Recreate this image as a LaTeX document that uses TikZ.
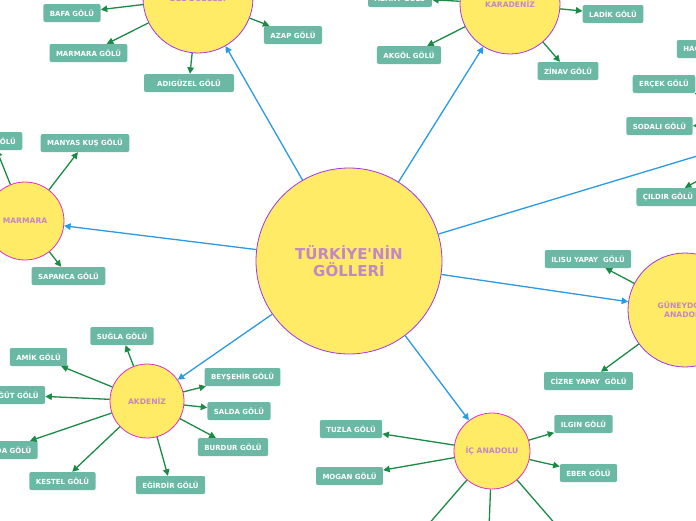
\documentclass[tikz,border=0pt]{standalone}
\usepackage{fontspec}
\setmainfont{DejaVu Sans}
\usetikzlibrary{arrows.meta}
\definecolor{boxc}{HTML}{6BB8A5}
\definecolor{grn}{HTML}{1B8A45}
\definecolor{blu}{HTML}{2A9BE3}
\definecolor{yel}{HTML}{FFEB66}
\definecolor{pur}{HTML}{A335E8}
\definecolor{mag}{HTML}{E030C8}
\definecolor{txt}{HTML}{C386C6}
\tikzset{
  lake/.style={rectangle, rounded corners=2pt, fill=boxc, text=white,
    font=\fontsize{7}{8}\selectfont\bfseries, minimum height=18pt,
    inner xsep=6.5pt, inner ysep=0pt},
  region/.style={circle, fill=yel, draw=#1, line width=0.8pt, text=txt,
    font=\fontsize{7.6}{9}\selectfont\bfseries, align=center, inner sep=0pt},
  garrow/.style={draw=grn, line width=1.3pt, -{Triangle[length=6.5pt,width=6.5pt]}},
  barrow/.style={draw=blu, line width=1.3pt, -{Triangle[length=6.5pt,width=6.5pt]}},
}
\begin{document}
\begin{tikzpicture}[x=1pt,y=-1pt]
\useasboundingbox (0,0) rectangle (696,520);
\fill[white] (0,0) rectangle (696,520);
\clip (0,0) rectangle (696,520);

% central
\node[region=pur, minimum size=186pt, font=\fontsize{15}{17}\selectfont\bfseries] (central) at (349,261) {TÜRKİYE\textquotesingle NİN\\GÖLLERİ};

% Ege
\node[region=pur, minimum size=110pt] (ege) at (198,-2) {EGE BÖLGESİ};
\node[lake] (bafa) at (72,13) {BAFA GÖLÜ};
\node[lake] (marmgol) at (88.5,53) {MARMARA GÖLÜ};
\node[lake, minimum width=90pt] (adiguzel) at (189,83) {ADIGÜZEL GÖLÜ};
\node[lake] (azap) at (293,35) {AZAP GÖLÜ};

% Karadeniz
\node[region=pur, minimum size=100pt] (karadeniz) at (510,4) {KARADENİZ};
\node[lake] (abant) at (400,-2) {ABANT GÖLÜ};
\node[lake] (ladik) at (613,14) {LADİK GÖLÜ};
\node[lake] (akgol) at (409,55) {AKGÖL GÖLÜ};
\node[lake] (zinav) at (568,71) {ZİNAV GÖLÜ};

% Dogu Anadolu (off picture)
\coordinate (dogu) at (800,125);
\node[lake] (hacli) at (707,49) {HAÇLI GÖLÜ};
\node[lake] (ercek) at (664,84) {ERÇEK GÖLÜ};
\node[lake] (sodali) at (659.5,126) {SODALI GÖLÜ};
\node[lake] (cildir) at (668,197) {ÇILDIR GÖLÜ};

% Marmara
\node[region=mag, minimum size=78pt] (marmara) at (25,221) {MARMARA};
\node[lake] (iznik) at (-7,141) {İZNİK GÖLÜ};
\node[lake] (manyas) at (85,143) {MANYAS KUŞ GÖLÜ};
\node[lake] (sapanca) at (68.5,276) {SAPANCA GÖLÜ};

% Guneydogu
\node[region=pur, minimum size=114pt] (gd) at (685,310) {GÜNEYDOĞU\\ANADOLU};
\node[lake] (ilisu) at (588,259) {ILISU YAPAY\ \ GÖLÜ};
\node[lake] (cizre) at (588.5,381) {CİZRE YAPAY\ \ GÖLÜ};

% Akdeniz
\node[region=mag, minimum size=74pt] (akdeniz) at (147,401) {AKDENİZ};
\node[lake] (sugla) at (122,336) {SUĞLA GÖLÜ};
\node[lake] (amik) at (38.5,357) {AMİK GÖLÜ};
\node[lake] (sogut) at (13,395) {SÖĞÜT GÖLÜ};
\node[lake] (kovada) at (3,450) {KOVADA GÖLÜ};
\node[lake] (kestel) at (62.5,481) {KESTEL GÖLÜ};
\node[lake] (egirdir) at (170.5,485) {EĞİRDİR GÖLÜ};
\node[lake] (beysehir) at (242.5,377) {BEYŞEHİR GÖLÜ};
\node[lake] (salda) at (239,411) {SALDA GÖLÜ};
\node[lake] (burdur) at (233,447) {BURDUR GÖLÜ};

% Ic Anadolu
\node[region=mag, minimum size=76pt] (ican) at (492,451) {İÇ ANADOLU};
\node[lake] (tuzla) at (351,429) {TUZLA GÖLÜ};
\node[lake] (mogan) at (349.5,476) {MOGAN GÖLÜ};
\node[lake] (ilgin) at (583.5,424) {ILGIN GÖLÜ};
\node[lake] (eber) at (588.5,473) {EBER GÖLÜ};
\coordinate (ica1) at (388,571);
\coordinate (ica2) at (487,580);
\coordinate (ica3) at (596,571);

% blue connectors
\draw[barrow] (central) -- (ege);
\draw[barrow] (central) -- (karadeniz);
\draw[barrow] (central) -- (dogu);
\draw[barrow] (central) -- (marmara);
\draw[barrow] (central) -- (gd);
\draw[barrow] (central) -- (akdeniz);
\draw[barrow] (central) -- (ican);

% green connectors
\foreach \t in {bafa,marmgol,adiguzel,azap} \draw[garrow] (ege) -- (\t);
\foreach \t in {abant,ladik,akgol,zinav} \draw[garrow] (karadeniz) -- (\t);
\foreach \t in {hacli,ercek,sodali,cildir} \draw[garrow] (dogu) -- (\t);
\foreach \t in {iznik,manyas,sapanca} \draw[garrow] (marmara) -- (\t);
\foreach \t in {ilisu,cizre} \draw[garrow] (gd) -- (\t);
\foreach \t in {sugla,amik,sogut,kovada,kestel,egirdir,beysehir,salda,burdur} \draw[garrow] (akdeniz) -- (\t);
\foreach \t in {tuzla,mogan,ilgin,eber,ica1,ica2,ica3} \draw[garrow] (ican) -- (\t);
\end{tikzpicture}
\end{document}
